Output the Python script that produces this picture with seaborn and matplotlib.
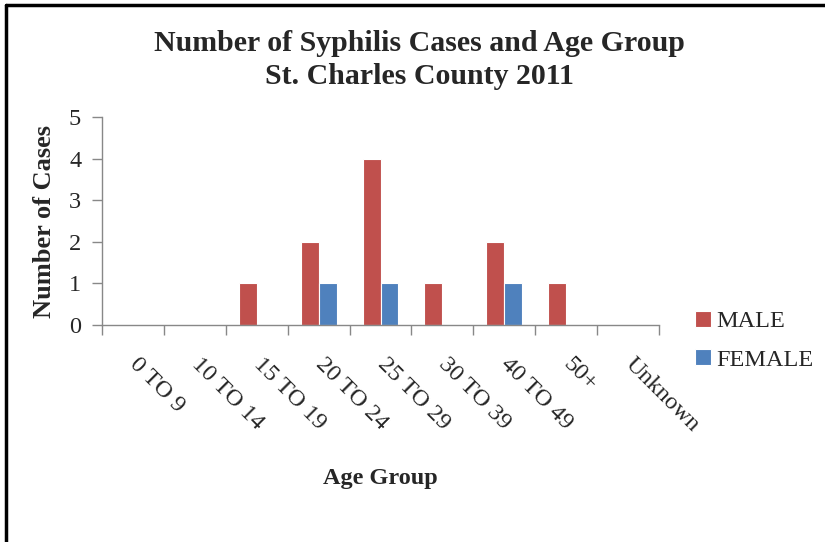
import matplotlib
matplotlib.use("Agg")
import matplotlib.pyplot as plt
import seaborn as sns
import pandas as pd
from matplotlib.lines import Line2D
from matplotlib.ticker import FixedLocator

categories = ["0 TO 9", "10 TO 14", "15 TO 19", "20 TO 24", "25 TO 29",
              "30 TO 39", "40 TO 49", "50+", "Unknown"]
male = [0, 0, 1, 2, 4, 1, 2, 1, 0]
female = [0, 0, 0, 1, 1, 0, 1, 0, 0]
series = ["MALE", "FEMALE"]
colors = ["#C0504D", "#4F81BD"]

df = pd.DataFrame({
    "Age Group": categories * 2,
    "Cases": male + female,
    "Sex": [series[0]] * len(categories) + [series[1]] * len(categories),
})

sns.set_theme(style="white")
plt.rcParams["font.family"] = ["Liberation Serif", "DejaVu Serif"]

fig = plt.figure(figsize=(8.25, 5.42), dpi=100)
ax = fig.add_axes([102 / 825, (542 - 325) / 542, 557 / 825, 208 / 542])

sns.barplot(data=df, x="Age Group", y="Cases", hue="Sex", order=categories,
            hue_order=series, palette=colors, width=0.58, gap=0,
            edgecolor="white", linewidth=0.8, saturation=1, ax=ax)

ax.set_xlim(-0.5, len(categories) - 0.5)
ax.set_ylim(0, 5)
ax.set_yticks(range(6))
ax.set_yticklabels([str(i) for i in range(6)], fontsize=17.5)
ax.set_xticks(range(len(categories)))
ax.set_xticklabels(categories, fontsize=17.5, rotation=-45, ha="left",
                   va="center", rotation_mode="anchor")
ax.xaxis.set_minor_locator(FixedLocator([i - 0.5 for i in range(len(categories) + 1)]))
ax.tick_params(axis="x", which="major", length=0, pad=26)
ax.tick_params(axis="x", which="minor", length=7, color="#888888", width=1,
               direction="out", bottom=True)
ax.tick_params(axis="y", length=7, color="#888888", width=1, direction="out",
               left=True, pad=8)

for s in ["top", "right"]:
    ax.spines[s].set_visible(False)
for s in ["left", "bottom"]:
    ax.spines[s].set_color("#888888")
    ax.spines[s].set_linewidth(1)

ax.set_xlabel("Age Group", fontsize=17.5, fontweight="bold", labelpad=23)
ax.set_ylabel("Number of Cases", fontsize=19, fontweight="bold", labelpad=9)

fig.text(0.508, 1 - 60 / 542, "Number of Syphilis Cases and Age Group\nSt. Charles County 2011",
         ha="center", va="center", fontsize=21.5, fontweight="bold",
         linespacing=1.32)

leg = ax.legend(loc="center left", bbox_to_anchor=(1.048, -0.075), frameon=False,
                fontsize=17.5, handlelength=0.65, handleheight=0.65,
                handletextpad=0.2, labelspacing=0.68, borderaxespad=0)

fig.add_artist(Line2D([6 / 825, 6 / 825], [0, 1 - 5 / 542], color="black",
                      lw=2.5, transform=fig.transFigure))
fig.add_artist(Line2D([6 / 825, 1], [1 - 5 / 542, 1 - 5 / 542], color="black",
                      lw=2.5, transform=fig.transFigure))

fig.savefig("out.png", dpi=100)
